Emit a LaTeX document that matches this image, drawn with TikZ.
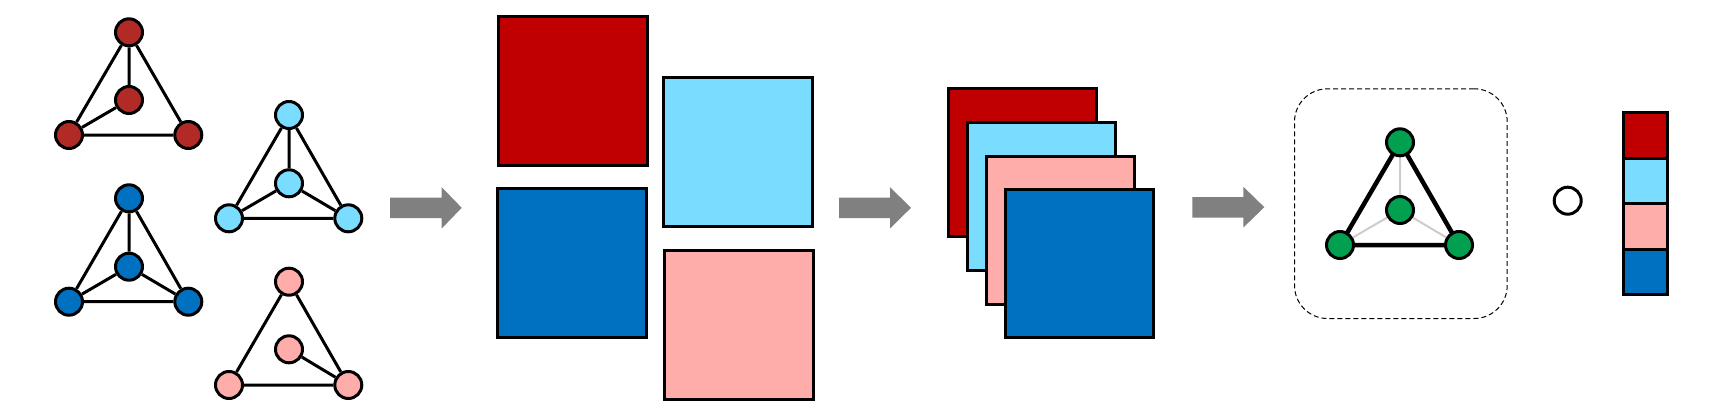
\documentclass[tikz,border=0pt]{standalone}
\usetikzlibrary{positioning}
\definecolor{cRed}{RGB}{192,0,0}
\definecolor{cRedN}{RGB}{178,42,38}
\definecolor{cCyan}{RGB}{122,220,255}
\definecolor{cPink}{RGB}{255,173,170}
\definecolor{cBlue}{RGB}{0,112,192}
\definecolor{cGreen}{RGB}{0,160,80}
\definecolor{cArrow}{RGB}{128,128,128}
\begin{document}
\begin{tikzpicture}[x=1pt,y=-1pt,
  gnode/.style={circle,draw=black,line width=3pt,minimum size=27pt,inner sep=0pt},
  gedge/.style={line width=3pt,black},
  sq/.style={rectangle,draw=black,line width=3pt,minimum width=149pt,minimum height=149pt,inner sep=0pt},
  cell/.style={rectangle,draw=black,line width=3pt,minimum width=43.7pt,minimum height=45.5pt,inner sep=0pt},
  bigarrow/.style={fill=cArrow,draw=none},
  thickedge/.style={line width=4.5pt,black},
  faintedge/.style={line width=2pt,black!20},
  dashbox/.style={draw=black,line width=1pt,dash pattern=on 5pt off 3pt,rounded corners=33pt}]
\useasboundingbox (0,0) rectangle (1735,415);

% red graph
\node[gnode,fill=cRedN] (rT) at (129,32.3) {};
\node[gnode,fill=cRedN] (rC) at (129,100) {};
\node[gnode,fill=cRedN] (rL) at (69,135) {};
\node[gnode,fill=cRedN] (rR) at (188.3,135) {};
\begin{scope}[on background layer/.try]
\end{scope}
\draw[gedge] (rT) -- (rC) (rT) -- (rL) (rT) -- (rR) (rL) -- (rR) (rL) -- (rC);

% cyan graph
\node[gnode,fill=cCyan] (cT) at (289,115) {};
\node[gnode,fill=cCyan] (cC) at (289,183.3) {};
\node[gnode,fill=cCyan] (cL) at (229,218.3) {};
\node[gnode,fill=cCyan] (cR) at (348.3,218.3) {};
\draw[gedge] (cT) -- (cC) (cT) -- (cL) (cT) -- (cR) (cL) -- (cR) (cL) -- (cC) (cC) -- (cR);

% blue graph
\node[gnode,fill=cBlue] (bT) at (129,198.3) {};
\node[gnode,fill=cBlue] (bC) at (129,266.7) {};
\node[gnode,fill=cBlue] (bL) at (69,301.7) {};
\node[gnode,fill=cBlue] (bR) at (188.3,301.7) {};
\draw[gedge] (bT) -- (bC) (bT) -- (bL) (bT) -- (bR) (bL) -- (bR) (bL) -- (bC) (bC) -- (bR);

% pink graph
\node[gnode,fill=cPink] (pT) at (289,281.7) {};
\node[gnode,fill=cPink] (pC) at (289,349.3) {};
\node[gnode,fill=cPink] (pL) at (229,385) {};
\node[gnode,fill=cPink] (pR) at (348.3,385) {};
\draw[gedge] (pT) -- (pL) (pT) -- (pR) (pL) -- (pR) (pC) -- (pR);

% arrows
\fill[bigarrow] (390,197.7) -- (441.7,197.7) -- (441.7,187.2) -- (461.7,207.8) -- (441.7,228.5) -- (441.7,218.2) -- (390,218.2) -- cycle;
\fill[bigarrow] (839,197.7) -- (890,197.7) -- (890,187.2) -- (911,207.8) -- (890,228.5) -- (890,218.2) -- (839,218.2) -- cycle;
\fill[bigarrow] (1192.3,197.2) -- (1243.3,197.2) -- (1243.3,186.7) -- (1264.3,207.2) -- (1243.3,227.5) -- (1243.3,217.7) -- (1192.3,217.7) -- cycle;

% squares group 1
\node[sq,fill=cRed] (s1) at (573,90.5) {};
\node[sq,fill=cCyan] (s2) at (737.9,151.5) {};
\node[sq,fill=cBlue] (s3) at (571.7,263.3) {};
\node[sq,fill=cPink] (s4) at (738.9,324.9) {};

% stacked squares
\node[sq,fill=cRed,minimum width=148pt,minimum height=148pt] (k1) at (1022.5,162.8) {};
\node[sq,fill=cCyan,minimum width=148pt,minimum height=148pt] (k2) at (1041.2,196.7) {};
\node[sq,fill=cPink,minimum width=148pt,minimum height=148pt] (k3) at (1060.5,230) {};
\node[sq,fill=cBlue,minimum width=148pt,minimum height=148pt] (k4) at (1079.7,263.3) {};

% dashed box
\node[dashbox,minimum width=212.7pt,minimum height=229.7pt,inner sep=0pt] (box) at (1400.85,203.65) {};

% green graph
\coordinate (gTc) at (1400,142.3);
\coordinate (gCc) at (1400,210);
\coordinate (gLc) at (1340,245);
\coordinate (gRc) at (1459,245);
\draw[faintedge] (gTc) -- (gCc) (gCc) -- (gLc) (gCc) -- (gRc);
\draw[thickedge] (gTc) -- (gLc) -- (gRc) -- cycle;
\node[gnode,fill=cGreen] (gT) at (gTc) {};
\node[gnode,fill=cGreen] (gC) at (gCc) {};
\node[gnode,fill=cGreen] (gL) at (gLc) {};
\node[gnode,fill=cGreen] (gR) at (gRc) {};

% operator circle
\node[gnode,fill=white] (op) at (1567.7,200.7) {};

% vector bar
\node[cell,fill=cRed] (v1) at (1645.6,135.25) {};
\node[cell,fill=cCyan] (v2) at (1645.6,180.75) {};
\node[cell,fill=cPink] (v3) at (1645.6,226.25) {};
\node[cell,fill=cBlue] (v4) at (1645.6,271.75) {};
\end{tikzpicture}
\end{document}
